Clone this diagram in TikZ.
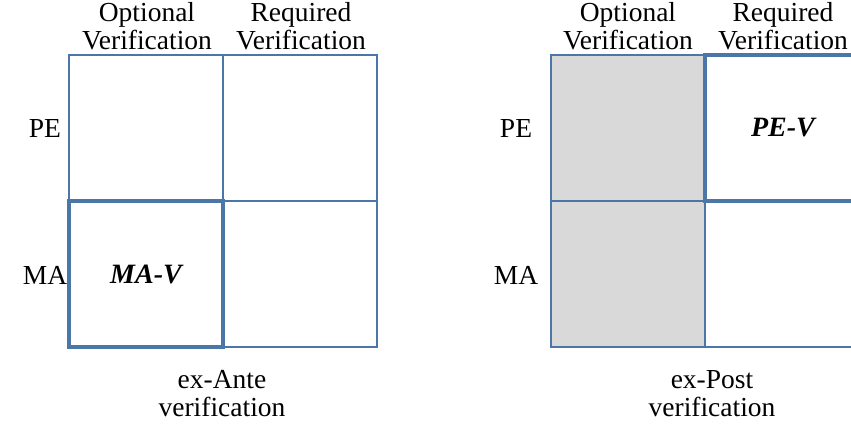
\documentclass[tikz,border=0pt]{standalone}
\usepackage{fontspec}
\setmainfont{Liberation Serif}
\definecolor{gridblue}{HTML}{4A76A8}
\definecolor{cellgray}{HTML}{D9D9D9}
\tikzset{
  cell/.style={draw=gridblue, line width=1.5pt, minimum width=154pt, minimum height=146pt, inner sep=0pt, outer sep=0pt, anchor=north west},
  thickcell/.style={cell, line width=3.5pt},
  grayfill/.style={fill=cellgray},
  lbl/.style={font=\fontsize{27.5}{28}\selectfont, align=center, inner sep=0pt},
  vlbl/.style={font=\fontsize{28}{28}\selectfont\bfseries\itshape, inner sep=0pt},
}
\begin{document}
\begin{tikzpicture}[x=1pt,y=-1pt]
\useasboundingbox (0,0) rectangle (851,425);
\clip (0,0) rectangle (851,425);
% left grid
\node[cell] (a11) at (69,55) {};
\node[cell] (a12) at (223,55) {};
\node[cell] (a21) at (69,201) {};
\node[cell] (a22) at (223,201) {};
\node[thickcell] (a21t) at (69,201) {};
\node[vlbl] at (a21t.center) {MA-V};
% right grid
\node[cell,grayfill] (b11) at (551,55) {};
\node[cell] (b12) at (705,55) {};
\node[cell,grayfill] (b21) at (551,201) {};
\node[cell] (b22) at (705,201) {};
\node[thickcell] (b12t) at (705,55) {};
\node[vlbl] at (783,128) {PE-V};
% headers
\node[lbl] at (147,26) {Optional\\Verification};
\node[lbl] at (301,26) {Required\\Verification};
\node[lbl] at (628,26) {Optional\\Verification};
\node[lbl] at (783,26) {Required\\Verification};
% row labels
\node[lbl] at (45,128) {PE};
\node[lbl] at (45,275) {MA};
\node[lbl] at (516,128) {PE};
\node[lbl] at (516,275) {MA};
% captions
\node[lbl] at (222,394) {ex-Ante\\verification};
\node[lbl] at (712,394) {ex-Post\\verification};
\end{tikzpicture}
\end{document}
